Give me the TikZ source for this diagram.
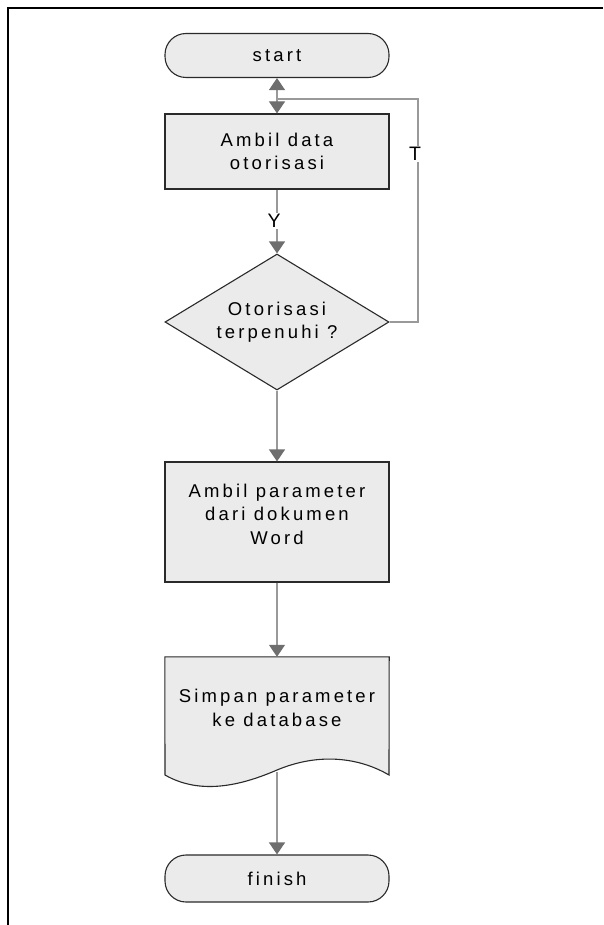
\documentclass[tikz,border=0pt]{standalone}
\usepackage{fontspec}
\setmainfont{Liberation Sans}
\newfontfamily\lsfont[LetterSpace=17]{Liberation Sans}
\usetikzlibrary{arrows.meta,shapes.geometric}
\definecolor{boxfill}{HTML}{EBEBEB}
\definecolor{boxline}{HTML}{2A2A2A}
\definecolor{conline}{HTML}{999999}
\definecolor{headcol}{HTML}{6E6E6E}
\tikzset{
  shapebox/.style={draw=boxline,fill=boxfill,line width=1.1pt,minimum width=224pt,inner sep=0pt},
  termbox/.style={shapebox,rounded corners=21pt},
  procbox/.style={shapebox,rectangle},
  decbox/.style={shapebox,diamond,minimum height=136pt},
  txt/.style={align=center,font=\lsfont\fontsize{18.5}{23.5}\selectfont,text=black,inner sep=0pt},
  conn/.style={draw=conline,line width=1.1pt},
  arr/.style={conn,-{Triangle[width=16pt,length=12pt,fill=headcol,color=headcol]}},
  lab/.style={font=\fontsize{19.5}{22}\selectfont,fill=white,inner sep=1.5pt}
}
\begin{document}
\begin{tikzpicture}[x=1pt,y=-1pt]
\useasboundingbox (0,0) rectangle (603,925);
% frame
\draw[line width=2.6pt,black] (8,925) -- (8,8) -- (603,8);
% nodes
\node[termbox,minimum height=44pt] (start) at (277,55.5) {};
\node[txt] at (start) {start};
\node[procbox,minimum height=75pt] (ambil) at (277,151.5) {};
\node[txt] at (ambil) {Ambil data\\otorisasi};
\node[decbox] (dec) at (277,322) {};
\node[txt] at (dec) {Otorisasi\\terpenuhi ?};
\node[procbox,minimum height=120pt] (param) at (277,522) {};
\node[txt] at (277,514) {Ambil parameter\\dari dokumen\\Word};
% document shape
\node[inner sep=0pt,minimum width=224pt,minimum height=117pt] (doc) at (277,715.5) {};
\draw[draw=boxline,fill=boxfill,line width=1.1pt]
  (doc.north west) -- (doc.north east) -- (389,775)
  .. controls (360,758) and (320,752) .. (277,770)
  .. controls (240,786) and (200,795) .. (165,775) -- cycle;
\node[txt] at (277,708) {Simpan parameter\\ke database};
\coordinate (docb) at (277,772);
\node[termbox,minimum height=47pt] (finish) at (277,878.5) {};
\node[txt] at (finish) {finish};
% connectors
\coordinate (j) at (277,99);
\coordinate (rt) at (418,99);
\draw[arr] (dec.east) -| (rt) -- (j) -- (start.south);
\draw[arr] (j) -- (ambil.north);
\draw[arr] (ambil.south) -- (dec.north);
\draw[arr] (dec.south) -- (param.north);
\draw[arr] (param.south) -- (doc.north);
\draw[arr] (docb) -- (finish.north);
% labels
\node[lab] at (274,221) {Y};
\node[lab] at (415,154) {T};
\end{tikzpicture}
\end{document}
